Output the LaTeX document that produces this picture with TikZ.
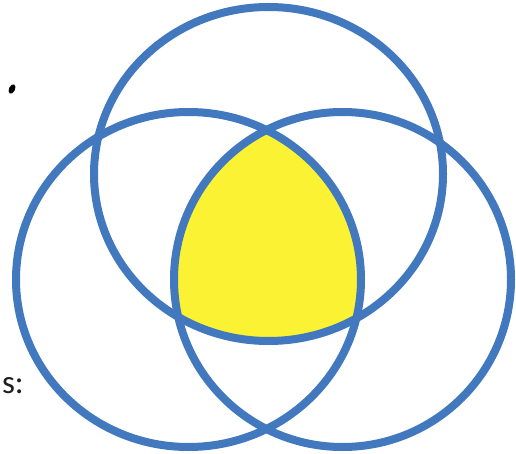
\documentclass[tikz,border=0pt]{standalone}
\usepackage{fontspec}
\setmainfont{Carlito}
\definecolor{vblue}{RGB}{66,121,190}
\definecolor{vyellow}{RGB}{250,242,50}
\definecolor{vtext}{RGB}{30,30,30}
\tikzset{ring/.style={draw=vblue,line width=8pt}}
\begin{document}
\begin{tikzpicture}[x=1pt,y=-1pt]
\useasboundingbox (0,0) rectangle (516,454);
\fill[white] (0,0) rectangle (516,454);
\begin{scope}
\clip (268.5,174) ellipse (174.5 and 167);
\clip (188.5,279.5) ellipse (172.5 and 167.5);
\fill[vyellow] (342.5,279.5) ellipse (168.5 and 167.5);
\end{scope}
\draw[ring] (268.5,174) ellipse (174.5 and 167);
\draw[ring] (188.5,279.5) ellipse (172.5 and 167.5);
\draw[ring] (342.5,279.5) ellipse (168.5 and 167.5);
\node[anchor=base east,inner sep=0pt,text=vtext,font=\fontsize{33}{36}\selectfont] (lbl) at (24,393) {s:};
\fill[black,shift={(12,89)},rotate=-25] (0,0) ellipse (3 and 5);
\end{tikzpicture}
\end{document}
